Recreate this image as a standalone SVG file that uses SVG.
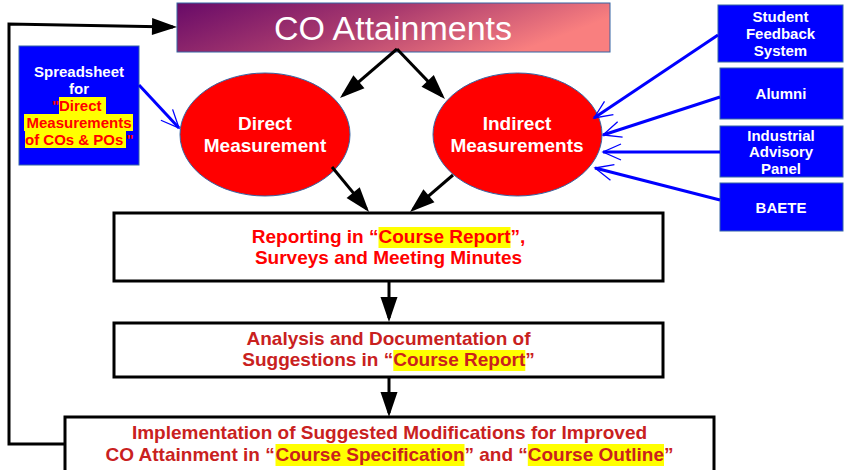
<svg xmlns="http://www.w3.org/2000/svg" width="844" height="470" viewBox="0 0 844 470">
<defs>
<linearGradient id="coGrad" x1="0" y1="0" x2="1" y2="0.3">
<stop offset="0" stop-color="#680a68"/>
<stop offset="0.5" stop-color="#a93a6e"/>
<stop offset="1" stop-color="#f97f7f"/>
</linearGradient>
<marker id="blackHead" markerUnits="userSpaceOnUse" markerWidth="30" markerHeight="20" viewBox="-22 -10 28 20" refX="0" refY="0" orient="auto">
<path d="M-21,-8.5 L4,0 L-21,8.5 Z" fill="#000"/>
</marker>
<marker id="blueHead" markerUnits="userSpaceOnUse" markerWidth="24" markerHeight="20" viewBox="-20 -10 24 20" refX="0" refY="0" orient="auto">
<path d="M-18,-8 L0,0 L-18,8" fill="none" stroke="#0000ff" stroke-width="1.3"/>
</marker>
</defs>
<style>
text{font-family:"Liberation Sans",Arial,sans-serif;font-weight:bold}
.mid{text-anchor:middle}
.w{fill:#fff}
.bluebox{fill:#0000ff;stroke:#3465a4;stroke-width:1}
.ell{fill:#ff0000;stroke:#3465a4;stroke-width:1}
.box{fill:#fff;stroke:#000;stroke-width:3}
.hl{fill:#ffff00}
.red{fill:#ff0000}
.dred{fill:#c9211e}
.blk{fill:none;stroke:#000;stroke-width:3;marker-end:url(#blackHead)}
.blu{fill:none;stroke:#0000ff;stroke-width:3;marker-end:url(#blueHead)}
.s15{font-size:15px}
.s19{font-size:19px}
</style>

<g id="co-attainments">
<rect x="177" y="3" width="433" height="49" fill="url(#coGrad)" stroke="#3465a4" stroke-width="1"/>
<text x="393" y="40" class="mid w" style="font-weight:normal;font-size:34px">CO Attainments</text>
</g>

<g id="spreadsheet">
<rect class="bluebox" x="19" y="46" width="120" height="119"/>
<text x="79" y="77" class="mid w s15">Spreadsheet</text>
<text x="79" y="94" class="mid w s15">for</text>
<rect class="hl" x="59" y="97" width="47" height="17"/>
<text y="111" class="s15 red"><tspan x="52">"</tspan><tspan x="59">Direct</tspan></text>
<rect class="hl" x="24" y="114" width="109" height="17"/>
<text x="79" y="128" class="mid red s15">Measurements</text>
<rect class="hl" x="25" y="131" width="101" height="17"/>
<text y="145" class="s15 red"><tspan x="25">of COs &amp; POs</tspan><tspan x="126.4">"</tspan></text>
</g>

<g id="direct-measurement">
<ellipse class="ell" cx="265" cy="134.5" rx="85" ry="61.5"/>
<text x="265" y="130" class="mid w s19">Direct</text>
<text x="265" y="152" class="mid w s19">Measurement</text>
</g>

<g id="indirect-measurements">
<ellipse class="ell" cx="517.5" cy="134.5" rx="84.5" ry="61.5"/>
<text x="517" y="130" class="mid w s19">Indirect</text>
<text x="517" y="152" class="mid w s19">Measurements</text>
</g>

<g id="student-feedback">
<rect class="bluebox" x="718" y="5" width="125" height="57"/>
<text x="780.5" y="22" class="mid w s15">Student</text>
<text x="780.5" y="39" class="mid w s15">Feedback</text>
<text x="780.5" y="56" class="mid w s15">System</text>
</g>

<g id="alumni">
<rect class="bluebox" x="720" y="68" width="123" height="51"/>
<text x="781" y="99" class="mid w s15">Alumni</text>
</g>

<g id="industrial-advisory-panel">
<rect class="bluebox" x="720" y="126" width="123" height="51"/>
<text x="781" y="141" class="mid w s15">Industrial</text>
<text x="781" y="157" class="mid w s15">Advisory</text>
<text x="781" y="174" class="mid w s15">Panel</text>
</g>

<g id="baete">
<rect class="bluebox" x="720" y="183" width="123" height="48"/>
<text x="781" y="213" class="mid w s15">BAETE</text>
</g>

<g id="reporting">
<rect class="box" x="114" y="213" width="549" height="68"/>
<rect class="hl" x="378.5" y="227" width="132" height="21"/>
<text y="243" class="s19 red"><tspan x="251.8">Reporting in “</tspan><tspan x="378.5">Course Report</tspan><tspan x="510.5">”,</tspan></text>
<text x="388.5" y="264" class="mid s19 red">Surveys and Meeting Minutes</text>
</g>

<g id="analysis">
<rect class="box" x="114" y="323" width="549" height="54"/>
<text x="388.5" y="345" class="mid s19 dred">Analysis and Documentation of</text>
<rect class="hl" x="393.3" y="350" width="132" height="21"/>
<text y="366" class="s19 dred"><tspan x="242.3">Suggestions in “</tspan><tspan x="393.3">Course Report</tspan><tspan x="525.3">”</tspan></text>
</g>

<g id="implementation">
<rect class="box" x="65" y="417" width="649" height="60"/>
<text x="389.5" y="439" class="mid s19 dred">Implementation of Suggested Modifications for Improved</text>
<rect class="hl" x="275.5" y="444" width="189" height="22"/>
<rect class="hl" x="527.8" y="444" width="136.2" height="22"/>
<text y="461" class="s19 dred"><tspan x="105.5">CO Attainment in “</tspan><tspan x="275.5">Course Specification</tspan><tspan x="464.5">” and “</tspan><tspan x="527.8">Course Outline</tspan><tspan x="664">”</tspan></text>
</g>

<g id="connectors">
<path class="blk" d="M65,444 L9,444 L9,24 L173,27"/>
<path class="blk" d="M397,49 L343,95.4"/>
<path class="blk" d="M397,49 L442.2,96.1"/>
<path class="blk" d="M332,167 L366.5,208.9"/>
<path class="blk" d="M453,175 L413,209.4"/>
<path class="blk" d="M389,281 L389,318"/>
<path class="blk" d="M389,377 L389,413"/>
<path class="blu" d="M139,85 L179,128"/>
<path class="blu" d="M718,35 L594,118"/>
<path class="blu" d="M720,97 L603,135"/>
<path class="blu" d="M720,152 L603,152"/>
<path class="blu" d="M720,200 L595,168"/>
</g>
</svg>
